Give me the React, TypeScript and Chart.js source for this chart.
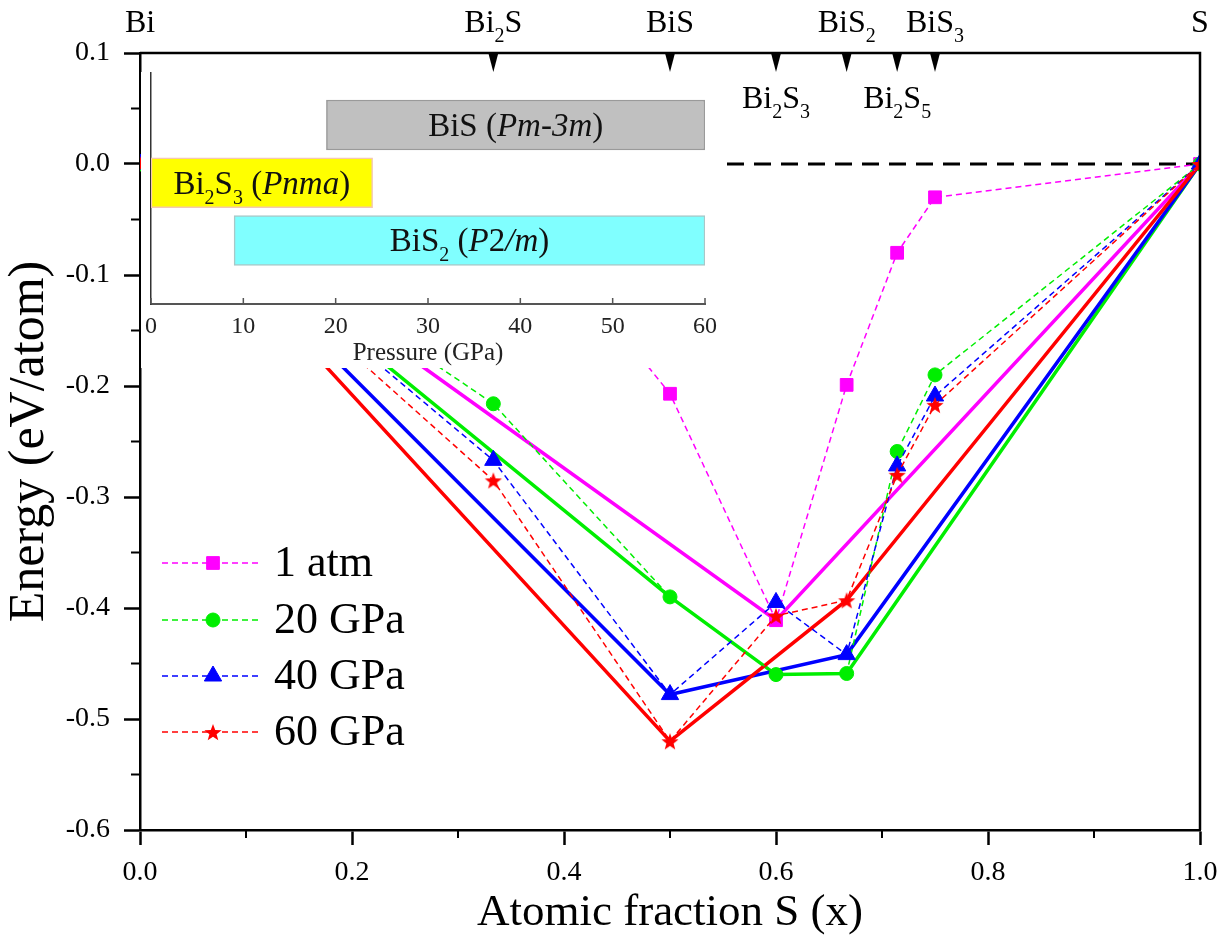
import React, { useEffect, useRef } from 'react';
import { Chart, registerables } from 'chart.js';
import { drawPoint } from 'chart.js/helpers';

Chart.register(...registerables);

const SERIF = '"Liberation Serif", "Times New Roman", Times, serif';

// ---------------- main chart data ----------------
const sFraction = [0, 1 / 3, 0.5, 0.6, 2 / 3, 5 / 7, 0.75, 1];
const seriesNames = ['1 atm', '20 GPa', '40 GPa', '60 GPa'];
const seriesColors = ['#ff00ff', '#00ee00', '#0000ff', '#ff0000'];
const energy1atm = [0, -0.01, -0.207, -0.411, -0.199, -0.08, -0.03, 0];
const energy20GPa = [0, -0.216, -0.39, -0.46, -0.459, -0.259, -0.19, 0];
const energy40GPa = [0, -0.267, -0.478, -0.395, -0.442, -0.272, -0.209, 0];
const energy60GPa = [0, -0.285, -0.52, -0.407, -0.393, -0.28, -0.217, 0];
// convex-hull vertices (S fraction) for each pressure
const hull1atm = [0, 0.6, 1];
const hull20GPa = [0, 0.5, 0.6, 2 / 3, 1];
const hull40GPa = [0, 0.5, 2 / 3, 1];
const hull60GPa = [0, 0.5, 2 / 3, 1];
const zeroLineX = [0, 1];
const zeroLineY = [0, 0];

const xMinorTicks = [0.1, 0.3, 0.5, 0.7, 0.9];
const yMinorTicks = [0.05, -0.05, -0.15, -0.25, -0.35, -0.45, -0.55];

// top compound axis
type Seg = { t: string; sub?: boolean; it?: boolean };
const compoundX = [0, 1 / 3, 0.5, 0.6, 2 / 3, 5 / 7, 0.75, 1];
const compoundLabels: Seg[][] = [
  [{ t: 'Bi' }],
  [{ t: 'Bi' }, { t: '2', sub: true }, { t: 'S' }],
  [{ t: 'BiS' }],
  [{ t: 'Bi' }, { t: '2', sub: true }, { t: 'S' }, { t: '3', sub: true }],
  [{ t: 'BiS' }, { t: '2', sub: true }],
  [{ t: 'Bi' }, { t: '2', sub: true }, { t: 'S' }, { t: '5', sub: true }],
  [{ t: 'BiS' }, { t: '3', sub: true }],
  [{ t: 'S' }],
];
const compoundBelow = [false, false, false, true, false, true, false, false];
const compoundMarked = [false, true, true, true, true, true, true, false];

// ---------------- inset data ----------------
const phaseRow = [3, 2, 1];
const phaseStart = [19, 0, 9];
const phaseEnd = [60, 24, 60];
const phaseFill = ['#c0c0c0', '#ffff00', '#80ffff'];
const phaseEdge = ['#9a9a9a', '#f4c8b0', '#a8c8c8'];
const phaseLabels: Seg[][] = [
  [{ t: 'BiS (' }, { t: 'Pm-3m', it: true }, { t: ')' }],
  [{ t: 'Bi' }, { t: '2', sub: true }, { t: 'S' }, { t: '3', sub: true }, { t: ' (' }, { t: 'Pnma', it: true }, { t: ')' }],
  [{ t: 'BiS' }, { t: '2', sub: true }, { t: ' (' }, { t: 'P', it: true }, { t: '2' }, { t: '/m', it: true }, { t: ')' }],
];
const pressureTicks = [0, 10, 20, 30, 40, 50, 60];

// ---------------- helpers ----------------
function segFont(size: number, seg: Seg) {
  const s = seg.sub ? Math.round(size * 0.62) : size;
  return `${seg.it ? 'italic ' : ''}${s}px ${SERIF}`;
}

function drawRich(ctx: CanvasRenderingContext2D, segs: Seg[], cx: number, baseline: number, size: number, color = '#000') {
  const widths: number[] = [];
  let total = 0;
  for (const sg of segs) {
    ctx.font = segFont(size, sg);
    const w = ctx.measureText(sg.t).width;
    widths.push(w);
    total += w;
  }
  let x = cx - total / 2;
  ctx.fillStyle = color;
  ctx.textAlign = 'left';
  ctx.textBaseline = 'alphabetic';
  segs.forEach((sg, i) => {
    ctx.font = segFont(size, sg);
    ctx.fillText(sg.t, x, baseline + (sg.sub ? size * 0.3 : 0));
    x += widths[i];
  });
}

function makeStar(color: string, R: number) {
  const c = document.createElement('canvas');
  const s = Math.ceil(R * 2 + 2);
  c.width = s;
  c.height = s;
  const g = c.getContext('2d')!;
  g.fillStyle = color;
  g.beginPath();
  for (let k = 0; k < 10; k++) {
    const r = k % 2 === 0 ? R : R * 0.42;
    const a = -Math.PI / 2 + (k * Math.PI) / 5;
    g.lineTo(s / 2 + r * Math.cos(a), s / 2 + 1 + r * Math.sin(a));
  }
  g.closePath();
  g.fill();
  return c;
}

const fmt1 = (v: any) => {
  const n = Number(v);
  return Math.abs(n) < 1e-9 ? '0.0' : n.toFixed(1);
};

// ---------------- plugins ----------------
const mainDecor = {
  id: 'mainDecor',
  afterDraw(chart: any) {
    const { ctx, chartArea: a, scales } = chart;
    const xs = scales.x;
    const ys = scales.y;
    ctx.save();
    // frame (top + right)
    ctx.strokeStyle = '#000';
    ctx.lineWidth = 2.5;
    ctx.beginPath();
    ctx.moveTo(a.left, a.top);
    ctx.lineTo(a.right, a.top);
    ctx.lineTo(a.right, a.bottom);
    ctx.stroke();
    // minor ticks
    ctx.lineWidth = 2;
    ctx.beginPath();
    for (const v of xMinorTicks) {
      const px = xs.getPixelForValue(v);
      ctx.moveTo(px, a.bottom);
      ctx.lineTo(px, a.bottom + 8);
    }
    for (const v of yMinorTicks) {
      const py = ys.getPixelForValue(v);
      ctx.moveTo(a.left, py);
      ctx.lineTo(a.left - 9, py);
    }
    ctx.stroke();
    // top compound axis
    compoundX.forEach((cx, i) => {
      const px = xs.getPixelForValue(cx);
      if (compoundMarked[i]) {
        ctx.fillStyle = '#000';
        ctx.beginPath();
        ctx.moveTo(px - 5, a.top);
        ctx.lineTo(px + 5, a.top);
        ctx.lineTo(px, a.top + 19);
        ctx.closePath();
        ctx.fill();
      }
      drawRich(ctx, compoundLabels[i], px, compoundBelow[i] ? a.top + 55 : a.top - 21, 32);
    });
    // legend
    const rows = [563, 620, 676, 732];
    for (let i = 0; i < 4; i++) {
      const ds = chart.data.datasets[i];
      const y = rows[i];
      ctx.strokeStyle = ds.borderColor;
      ctx.lineWidth = ds.borderWidth;
      ctx.setLineDash(ds.borderDash);
      ctx.beginPath();
      ctx.moveTo(162, y);
      ctx.lineTo(260, y);
      ctx.stroke();
      ctx.setLineDash([]);
      ctx.fillStyle = ds.pointBackgroundColor;
      ctx.strokeStyle = ds.pointBorderColor;
      ctx.lineWidth = ds.pointBorderWidth;
      drawPoint(ctx, { pointStyle: ds.pointStyle, radius: ds.pointRadius, rotation: 0, borderWidth: ds.pointBorderWidth }, 213, y);
      ctx.fillStyle = '#000';
      ctx.font = `44px ${SERIF}`;
      ctx.textAlign = 'left';
      ctx.textBaseline = 'middle';
      ctx.fillText(ds.label, 274, y + 1);
    }
    ctx.restore();
  },
};

// white backing for the inset, leaving the main chart's y axis line visible
const INSET_BG_SKIP = 4;
const insetBackground = {
  id: 'insetBackground',
  beforeDraw(chart: any) {
    const { ctx, width, height } = chart;
    ctx.save();
    ctx.fillStyle = '#fff';
    ctx.fillRect(INSET_BG_SKIP, 0, width - INSET_BG_SKIP, height);
    ctx.restore();
  },
};

const insetDecor = {
  id: 'insetDecor',
  afterDraw(chart: any) {
    const { ctx, chartArea: a, scales } = chart;
    ctx.save();
    ctx.strokeStyle = '#555';
    ctx.lineWidth = 1.5;
    ctx.beginPath();
    for (const v of pressureTicks) {
      const px = scales.x.getPixelForValue(v);
      ctx.moveTo(px, a.bottom);
      ctx.lineTo(px, a.bottom - 6);
    }
    ctx.stroke();
    const meta = chart.getDatasetMeta(0);
    meta.data.forEach((el: any, i: number) => {
      const cx = (el.x + el.base) / 2;
      drawRich(ctx, phaseLabels[i], cx, el.y + 11, 33, '#111');
    });
    ctx.restore();
  },
};

export default function App() {
  const mainRef = useRef<HTMLCanvasElement>(null);
  const insetRef = useRef<HTMLCanvasElement>(null);

  useEffect(() => {
    const star = makeStar('#ff0000', 9);
    const pointStyles: any[] = ['rect', 'circle', 'triangle', star];
    const pointRadii = [9, 7, 10, 9];
    const energies = [energy1atm, energy20GPa, energy40GPa, energy60GPa];
    const hulls = [hull1atm, hull20GPa, hull40GPa, hull60GPa];

    const dashed = energies.map((e, i) => ({
      label: seriesNames[i],
      data: sFraction.map((x, k) => ({ x, y: e[k] })),
      borderColor: seriesColors[i],
      backgroundColor: seriesColors[i],
      pointBackgroundColor: seriesColors[i],
      pointBorderColor: seriesColors[i],
      pointBorderWidth: 1,
      borderWidth: 1.5,
      borderDash: [6, 4],
      pointStyle: pointStyles[i],
      pointRadius: pointRadii[i],
      tension: 0,
      order: 4 - i,
    }));
    const solid = hulls.map((h, i) => ({
      label: seriesNames[i] + ' hull',
      data: h.map((x) => ({ x, y: energies[i][sFraction.findIndex((s) => Math.abs(s - x) < 1e-9)] })),
      borderColor: seriesColors[i],
      backgroundColor: seriesColors[i],
      borderWidth: 3.5,
      pointRadius: 0,
      tension: 0,
      order: 8 - i,
    }));
    const zero = {
      label: 'zero',
      data: zeroLineX.map((x, k) => ({ x, y: zeroLineY[k] })),
      borderColor: '#000',
      borderWidth: 3,
      borderDash: [17, 10],
      borderDashOffset: 7,
      pointRadius: 0,
      order: 10,
    };

    const main = new Chart(mainRef.current!, {
      type: 'line',
      data: { datasets: [...dashed, ...solid, zero] as any },
      options: {
        animation: false,
        responsive: false,
        maintainAspectRatio: false,
        devicePixelRatio: 1,
        layout: { padding: { top: 53, right: 31, left: 0, bottom: 0 } },
        plugins: { legend: { display: false }, tooltip: { enabled: false } },
        scales: {
          x: {
            type: 'linear',
            min: 0,
            max: 1,
            ticks: { stepSize: 0.2, callback: fmt1, font: { family: SERIF, size: 28 }, color: '#000', padding: 11, maxRotation: 0, autoSkip: false },
            grid: { display: true, drawOnChartArea: false, drawTicks: true, tickLength: 15, tickWidth: 2.5, tickColor: '#000' },
            border: { display: true, color: '#000', width: 2.5 },
            title: { display: true, text: 'Atomic fraction S (x)', font: { family: SERIF, size: 45, lineHeight: 1 }, color: '#000', padding: { top: 0, bottom: 7 } },
            afterFit: (s: any) => { s.height = 113; },
          },
          y: {
            type: 'linear',
            min: -0.6,
            max: 0.1,
            ticks: { stepSize: 0.1, callback: fmt1, font: { family: SERIF, size: 28 }, color: '#000', padding: 14 },
            grid: { display: true, drawOnChartArea: false, drawTicks: true, tickLength: 16, tickWidth: 2.5, tickColor: '#000' },
            border: { display: true, color: '#000', width: 2.5 },
            title: { display: true, text: 'Energy (eV/atom)', font: { family: SERIF, size: 50, lineHeight: 1 }, color: '#000', padding: { top: 5, bottom: 0 } },
            afterFit: (s: any) => { s.width = 140; },
          },
        },
      } as any,
      plugins: [mainDecor],
    });

    const inset = new Chart(insetRef.current!, {
      type: 'bar',
      data: {
        datasets: [
          {
            label: 'phases',
            data: phaseRow.map((r, i) => ({ x: [phaseStart[i], phaseEnd[i]], y: r })),
            backgroundColor: phaseFill,
            borderColor: phaseEdge,
            borderWidth: 1.5,
            borderSkipped: false,
            barThickness: 50,
          } as any,
        ],
      },
      options: {
        indexAxis: 'y',
        animation: false,
        responsive: false,
        maintainAspectRatio: false,
        devicePixelRatio: 1,
        layout: { padding: { top: 1, right: 22, left: 0, bottom: 0 } },
        plugins: { legend: { display: false }, tooltip: { enabled: false } },
        scales: {
          x: {
            type: 'linear',
            min: 0,
            max: 60,
            ticks: { stepSize: 10, font: { family: SERIF, size: 24 }, color: '#222', padding: 8, maxRotation: 0 },
            grid: { display: false, drawTicks: false },
            border: { display: true, color: '#555', width: 2 },
            title: { display: true, text: 'Pressure (GPa)', font: { family: SERIF, size: 25, lineHeight: 1 }, color: '#222', padding: { top: 0, bottom: 2 } },
            afterFit: (s: any) => { s.height = 64; },
          },
          y: {
            type: 'linear',
            min: 0.15,
            max: 3.65,
            ticks: { display: false },
            grid: { display: false, drawTicks: false },
            border: { display: true, color: '#333', width: 1.5 },
            afterFit: (s: any) => { s.width = 9; },
          },
        },
      } as any,
      plugins: [insetBackground, insetDecor],
    });

    return () => {
      main.destroy();
      inset.destroy();
    };
  }, []);

  return (
    <div style={{ position: 'absolute', left: 0, top: 0, width: 1231, height: 943, background: '#fff' }}>
      <canvas ref={mainRef} width={1231} height={943} style={{ position: 'absolute', left: 0, top: 0, width: 1231, height: 943 }} />
      <canvas ref={insetRef} width={590} height={296} style={{ position: 'absolute', left: 137, top: 72, width: 590, height: 296 }} />
    </div>
  );
}
